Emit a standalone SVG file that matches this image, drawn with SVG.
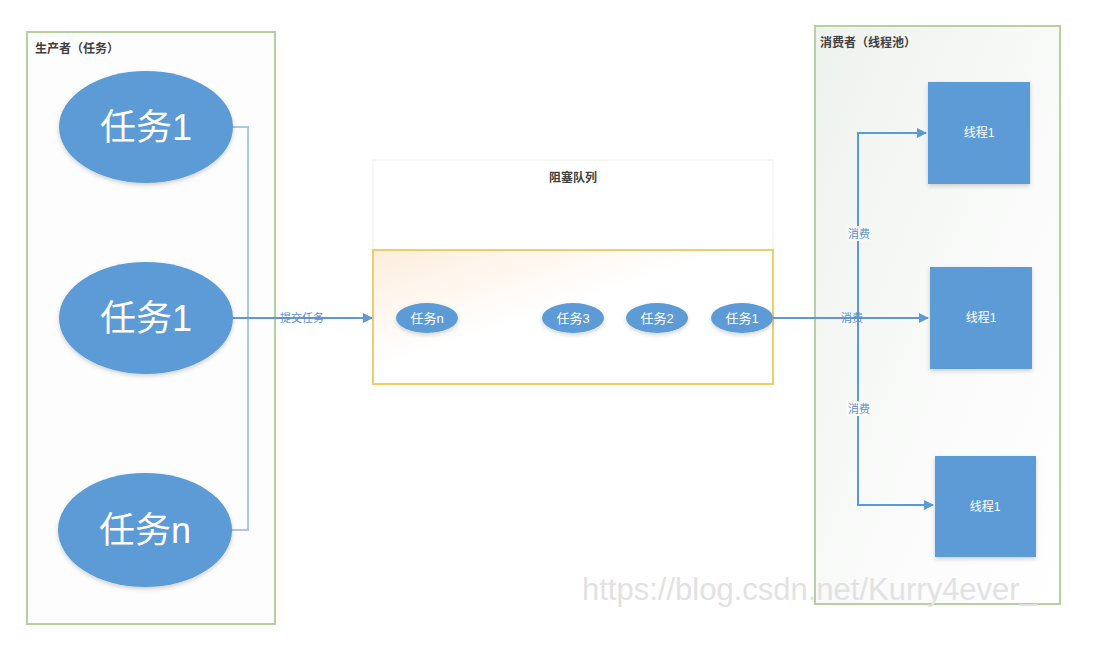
<svg xmlns="http://www.w3.org/2000/svg" width="1116" height="668" viewBox="0 0 1116 668">
<style>
.cjk{font-family:"Liberation Sans","Noto Sans CJK SC",sans-serif}
.title{font-size:12px;fill:#404040;font-weight:bold}
.big{font-size:36px;fill:#ffffff}
.small{font-size:13px;fill:#ffffff}
.sq{font-size:12px;fill:#ffffff}
.lbl{font-size:11px;fill:#5b8fc8}
.task{fill:#5b9bd5}
.link{fill:none;stroke:#5b9bd5;stroke-width:2}
.thin{fill:none;stroke:#a8c8ea;stroke-width:2}
</style>
<defs>
<marker id="arr" viewBox="0 0 10 10" refX="9" refY="5" markerWidth="5" markerHeight="5" orient="auto" markerUnits="strokeWidth">
<path d="M0,0 L10,5 L0,10 z" fill="#5b9bd5"/>
</marker>
<linearGradient id="qfill" x1="0" y1="0" x2="1" y2="1">
<stop offset="0" stop-color="#fdeede"/>
<stop offset="0.45" stop-color="#ffffff"/>
<stop offset="1" stop-color="#ffffff"/>
</linearGradient>
<linearGradient id="rfill" x1="0" y1="0" x2="1" y2="1">
<stop offset="0" stop-color="#eef2ee"/>
<stop offset="0.6" stop-color="#fafbfa"/>
<stop offset="1" stop-color="#ffffff"/>
</linearGradient>
<filter id="sh" x="-20%" y="-20%" width="140%" height="150%">
<feDropShadow dx="0" dy="2" stdDeviation="2" flood-color="#000" flood-opacity="0.18"/>
</filter>
</defs>
<rect width="1116" height="668" fill="#ffffff"/>

<g id="producer">
<rect x="27" y="32" width="248" height="592" fill="#fdfdfd" stroke="#b5d1a0" stroke-width="2"/>
<text class="cjk title" x="35" y="53">生产者（任务）</text>
</g>

<g id="consumer">
<rect x="815" y="26" width="245" height="578" fill="url(#rfill)" stroke="#b5d1a0" stroke-width="2"/>
<text class="cjk title" x="820" y="47">消费者（线程池）</text>
</g>

<g id="queue">
<rect x="373" y="160" width="400" height="90" fill="#ffffff" stroke="#f0f0f0" stroke-width="1"/>
<text class="cjk title" x="573" y="182" text-anchor="middle">阻塞队列</text>
<rect x="373" y="250" width="400" height="134" fill="url(#qfill)" stroke="#f2cc6a" stroke-width="2"/>
</g>

<g id="connectors">
<polyline class="thin" points="231,127 248,127 248,530 232,530"/>
<line class="link" x1="232" y1="318" x2="372" y2="318" marker-end="url(#arr)"/>
<line class="link" x1="773" y1="318" x2="928" y2="318" marker-end="url(#arr)"/>
<polyline class="link" points="858,318 858,133 926,133" marker-end="url(#arr)"/>
<polyline class="link" points="858,318 858,505 933,505" marker-end="url(#arr)"/>
<text class="cjk lbl" x="302" y="322" text-anchor="middle">提交任务</text>
<rect x="846" y="226" width="26" height="15" fill="#f6f8f6"/>
<text class="cjk lbl" x="859" y="238" text-anchor="middle">消费</text>
<text class="cjk lbl" x="852" y="322" text-anchor="middle">消费</text>
<rect x="846" y="401" width="26" height="15" fill="#f9faf9"/>
<text class="cjk lbl" x="859" y="413" text-anchor="middle">消费</text>
</g>

<g id="task1">
<ellipse class="task" cx="146" cy="127" rx="87" ry="56" filter="url(#sh)"/>
<text class="cjk big" x="146" y="140" text-anchor="middle">任务1</text>
</g>
<g id="task2">
<ellipse class="task" cx="146" cy="318" rx="87" ry="56" filter="url(#sh)"/>
<text class="cjk big" x="146" y="331" text-anchor="middle">任务1</text>
</g>
<g id="taskn">
<ellipse class="task" cx="145" cy="530" rx="87" ry="57" filter="url(#sh)"/>
<text class="cjk big" x="145" y="543" text-anchor="middle">任务n</text>
</g>

<g id="q-taskn">
<ellipse class="task" cx="427" cy="318" rx="31" ry="15" filter="url(#sh)"/>
<text class="cjk small" x="427" y="323" text-anchor="middle">任务n</text>
</g>
<g id="q-task3">
<ellipse class="task" cx="573" cy="318" rx="31" ry="15" filter="url(#sh)"/>
<text class="cjk small" x="573" y="323" text-anchor="middle">任务3</text>
</g>
<g id="q-task2">
<ellipse class="task" cx="657" cy="318" rx="31" ry="15" filter="url(#sh)"/>
<text class="cjk small" x="657" y="323" text-anchor="middle">任务2</text>
</g>
<g id="q-task1">
<ellipse class="task" cx="742" cy="318" rx="31" ry="15" filter="url(#sh)"/>
<text class="cjk small" x="742" y="323" text-anchor="middle">任务1</text>
</g>

<g id="thread1">
<rect class="task" x="928" y="82" width="102" height="102" filter="url(#sh)"/>
<text class="cjk sq" x="979" y="137" text-anchor="middle">线程1</text>
</g>
<g id="thread2">
<rect class="task" x="930" y="267" width="102" height="102" filter="url(#sh)"/>
<text class="cjk sq" x="981" y="322" text-anchor="middle">线程1</text>
</g>
<g id="thread3">
<rect class="task" x="935" y="456" width="101" height="101" filter="url(#sh)"/>
<text class="cjk sq" x="985" y="511" text-anchor="middle">线程1</text>
</g>

<text x="582" y="600" font-family="Liberation Sans, Arial, sans-serif" font-size="31" fill="#e2e2e2">https://blog.csdn.net/Kurry4ever_</text>
</svg>
